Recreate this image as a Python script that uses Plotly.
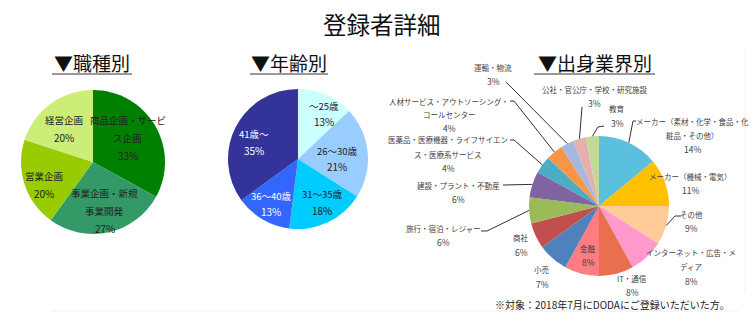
import math
import plotly.graph_objects as go

W, H = 753, 322
FONT = "Noto Sans CJK JP"

# ---------------- data ----------------
job_names = ["商品企画・サービス企画", "事業企画・新規事業開発", "営業企画", "経営企画"]
job_values = [33, 27, 20, 20]
job_lines = [["商品企画・サービ", "ス企画"], ["事業企画・新規", "事業開発"], ["営業企画"], ["経営企画"]]

age_names = ["～25歳", "26～30歳", "31～35歳", "36～40歳", "41歳～"]
age_values = [13, 21, 18, 13, 35]
age_lines = [["～25歳"], ["26～30歳"], ["31～35歳"], ["36～40歳"], ["41歳～"]]

ind_names = ["メーカー（素材・化学・食品・化粧品・その他）", "メーカー（機械・電気）", "その他",
             "インターネット・広告・メディア", "IT・通信", "金融", "小売", "商社",
             "旅行・宿泊・レジャー", "建設・プラント・不動産",
             "医薬品・医療機器・ライフサイエンス・医療系サービス",
             "人材サービス・アウトソーシング・コールセンター", "運輸・物流",
             "公社・官公庁・学校・研究施設", "教育"]
ind_values = [14, 11, 9, 8, 8, 8, 7, 6, 6, 6, 4, 4, 3, 3, 3]
ind_lines = [["メーカー（素材・化学・食品・化", "粧品・その他）"], ["メーカー（機械・電気）"], ["その他"],
             ["インターネット・広告・メ", "ディア"], ["IT・通信"], ["金融"], ["小売"], ["商社"],
             ["旅行・宿泊・レジャー"], ["建設・プラント・不動産"],
             ["医薬品・医療機器・ライフサイエン", "ス・医療系サービス"],
             ["人材サービス・アウトソーシング・", "コールセンター"], ["運輸・物流"],
             ["公社・官公庁・学校・研究施設"], ["教育"]]

title_text = "登録者詳細"
headers = ["▼職種別", "▼年齢別", "▼出身業界別"]
footnote = "※対象：2018年7月にDODAにご登録いただいた方。"

# ---------------- styles / layout positions ----------------
job_colors = ["#008000", "#339966", "#99CC00", "#CCEE77"]
age_colors = ["#CCFFFF", "#99CCFF", "#00CCFF", "#3366FF", "#333399"]
age_text_colors = ["#222", "#222", "#222", "#fff", "#fff"]
ind_colors = ["#5BC0DE", "#FFC000", "#FFCC99", "#FF99CC", "#E8704F", "#FF7C80", "#4F81BD",
              "#C0504D", "#9BBB59", "#8064A2", "#4BACC6", "#F79646", "#A6B8E0", "#E3B0AE", "#C4D79B"]

pies = [  # center x, center y, radius (px)
    (93, 162, 72),
    (298, 159, 70),
    (599, 206, 70),
]
job_lbl = [(128, 120, 17.5), (105, 193, 17.5), (44, 176, 17), (64, 120, 17)]
age_lbl = [(324, 106, 15), (337, 151, 15), (322, 194, 16), (271, 196, 15.5), (254, 134, 16)]
ind_lbl = [(692, 121, 14), (690, 176, 13.5), (691, 214, 14), (691, 252, 14.5), (632, 278, 13.5),
           (588, 248, 14), (542, 269, 14.5), (521, 238, 14), (443, 228, 14), (458, 185, 14),
           (448, 140, 14), (449, 101, 13.5), (493, 67, 13.5), (594, 90, 13.5), (617, 109, 14)]
# leader line label-side points (None = no leader)
ind_leader = [[(636, 121), (633, 121)], None, [(681, 216), (675, 216)], None, None, None, None, None,
              [(481, 231), (487, 231)], [(503, 185)], [(510, 140), (514, 140)],
              [(510, 101), (514, 101)], [(506, 82)], [(582, 107)], [(604, 126), (598, 127)]]


def fx(x):
    return x / W


def fy(y):
    return 1 - y / H


def domain(cx, cy, r):
    return dict(x=[fx(cx - r), fx(cx + r)], y=[fy(cy + r), fy(cy - r)])


fig = go.Figure()
for (vals, names, cols), (cx, cy, r) in zip(
        [(job_values, job_names, job_colors), (age_values, age_names, age_colors),
         (ind_values, ind_names, ind_colors)], pies):
    fig.add_trace(go.Pie(values=vals, labels=names, sort=False, direction="clockwise", rotation=0,
                         marker=dict(colors=cols, line=dict(width=0)), textinfo="none",
                         hoverinfo="label+percent", showlegend=False, domain=domain(cx, cy, r)))

ann = []
shapes = []


def add_label(lines, val, pos, size, psize, color):
    x, y0, step = pos
    items = [(t, size) for t in lines] + [(f"{val}%", psize)]
    for i, (t, s) in enumerate(items):
        ann.append(dict(x=fx(x), y=fy(y0 + i * step), xref="paper", yref="paper", text=t,
                        showarrow=False, xanchor="center", yanchor="middle",
                        font=dict(family=FONT, size=s, color=color)))


for i, v in enumerate(job_values):
    add_label(job_lines[i], v, job_lbl[i], 9.5, 10, "#222")
for i, v in enumerate(age_values):
    add_label(age_lines[i], v, age_lbl[i], 9.5, 10, age_text_colors[i])
for i, v in enumerate(ind_values):
    add_label(ind_lines[i], v, ind_lbl[i], 7.5, 8.5, "#404040")

# leader lines to slice edges computed from data
cx, cy, r = pies[2]
tot = sum(ind_values)
cum = 0
for i, v in enumerate(ind_values):
    mid = (cum + v / 2) / tot * 2 * math.pi
    cum += v
    if ind_leader[i] is None:
        continue
    ex, ey = cx + r * math.sin(mid), cy - r * math.cos(mid)
    pts = ind_leader[i] + [(ex, ey)]
    path = "M " + " L ".join(f"{fx(px)},{fy(py)}" for px, py in pts)
    shapes.append(dict(type="path", path=path, xref="paper", yref="paper",
                       line=dict(color="#333333", width=1)))

# title, headers, footnote
ann.append(dict(x=fx(382), y=fy(24), xref="paper", yref="paper", text=title_text, showarrow=False,
                xanchor="center", yanchor="middle", font=dict(family=FONT, size=23.5, color="#111")))
hdr_pos = [(92, 52, 132), (289, 250, 328), (595, 534, 655)]
for t, (hx, x0, x1) in zip(headers, hdr_pos):
    ann.append(dict(x=fx(hx), y=fy(63), xref="paper", yref="paper", text=t, showarrow=False,
                    xanchor="center", yanchor="middle", font=dict(family=FONT, size=19, color="#111")))
    shapes.append(dict(type="line", xref="paper", yref="paper", x0=fx(x0), x1=fx(x1),
                       y0=fy(74), y1=fy(74), line=dict(color="#333", width=1)))
ann.append(dict(x=fx(612), y=fy(304), xref="paper", yref="paper", text=footnote, showarrow=False,
                xanchor="center", yanchor="middle", font=dict(family=FONT, size=10, color="#222")))

# faint frame lines
shapes.append(dict(type="line", xref="paper", yref="paper", x0=fx(50), x1=fx(738), y0=fy(311),
                   y1=fy(311), line=dict(color="#EEEEEE", width=1)))
shapes.append(dict(type="line", xref="paper", yref="paper", x0=fx(745), x1=fx(745), y0=fy(50),
                   y1=fy(293), line=dict(color="#F2F2F2", width=1)))

fig.update_layout(width=W, height=H, margin=dict(l=0, r=0, t=0, b=0), paper_bgcolor="white",
                  plot_bgcolor="white", annotations=ann, shapes=shapes,
                  font=dict(family=FONT))
fig.write_html("out.html")
